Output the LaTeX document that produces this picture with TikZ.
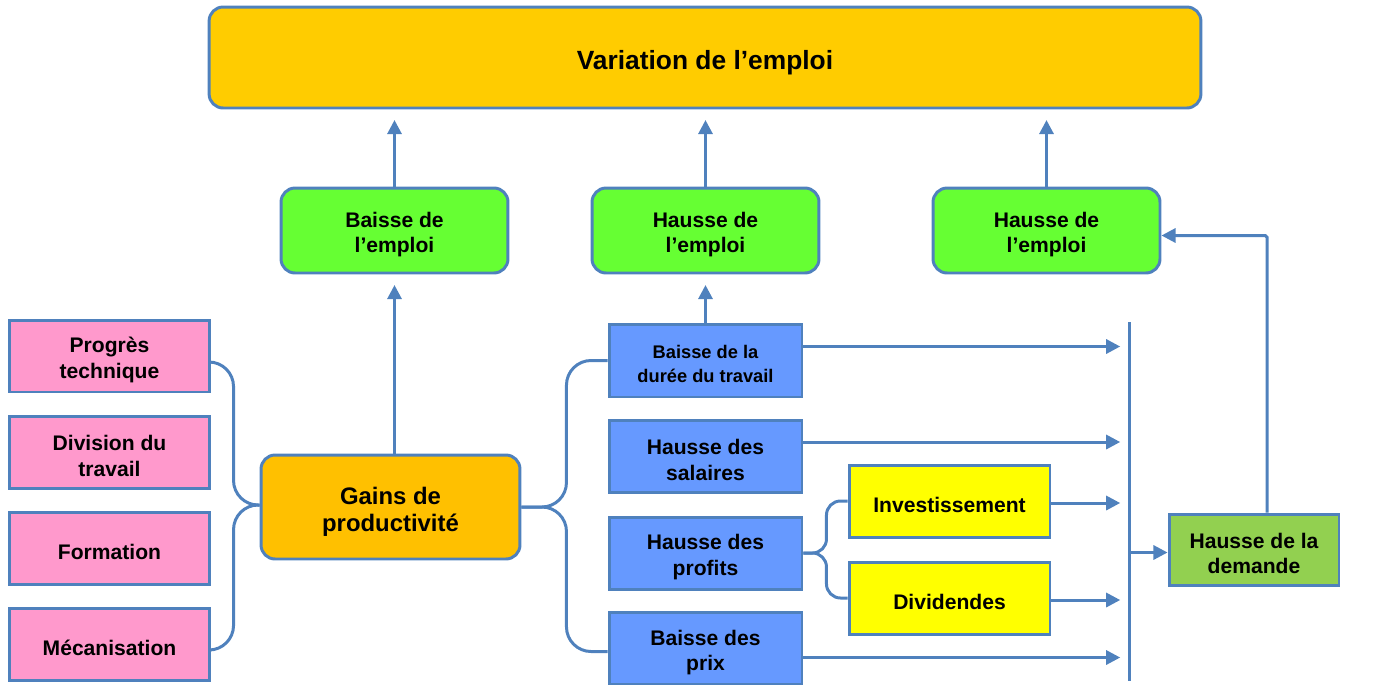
\documentclass[tikz,border=0pt]{standalone}
\usepackage{fontspec}
\setmainfont{Liberation Sans}
\usetikzlibrary{arrows.meta,calc}
\definecolor{linec}{HTML}{4F81BD}
\definecolor{topc}{HTML}{FFCC00}
\definecolor{gainc}{HTML}{FFC000}
\definecolor{greenc}{HTML}{66FF33}
\definecolor{pinkc}{HTML}{FF99CC}
\definecolor{bluec}{HTML}{6699FF}
\definecolor{yelc}{HTML}{FFFF00}
\definecolor{demc}{HTML}{92D050}
\newcommand{\lft}{\rule{0pt}{1.1em}}
\begin{document}
\begin{tikzpicture}[x=0.02cm,y=-0.02cm]
    \tikzstyle{box}=[draw=linec,line width=1.7pt,align=center,inner sep=0pt,font=\bfseries\fontsize{12}{14.5}\selectfont]
    \tikzstyle{rbox}=[box,rounded corners=8pt]
    \tikzstyle{link}=[draw=linec,line width=1.7pt]
    \tikzstyle{arr}=[link,-{Triangle[length=8pt,width=8pt]},shorten >=6pt]
    \useasboundingbox (0,0) rectangle (1378,684);

    \node[rbox,fill=topc,minimum width=19.84cm,minimum height=2.02cm,font=\bfseries\fontsize{15}{18}\selectfont] (top) at (705,57.5) {\lft Variation de l’emploi};
    \foreach \num/\x/\txt in {1/394.5/Baisse, 2/705.5/Hausse, 3/1046.5/Hausse}
        \node[rbox,fill=greenc,minimum width=4.54cm,minimum height=1.7cm] (g-\num) at (\x,230.5) {\lft\txt{} de\\l’emploi};
    \node[rbox,fill=gainc,minimum width=5.18cm,minimum height=2.08cm,font=\bfseries\fontsize{13.6}{15.3}\selectfont] (gains) at (390.5,507) {\lft Gains de\\productivité};

    \foreach \num/\y/\txt in {1/356/{Progrès\\technique}, 2/452/{Division du\\travail}, 3/548/Formation, 4/644/Mécanisation}
        \node[box,fill=pinkc,minimum width=4.02cm,minimum height=1.44cm] (p-\num) at (109.5,\y) {\lft\txt};
    \node[box,fill=bluec,minimum width=3.86cm,minimum height=1.46cm,font=\bfseries\fontsize{10.4}{13.6}\selectfont] (b-1) at (705.5,360.5) {\lft Baisse de la\\durée du travail};
    \foreach \num/\y/\txt in {2/456/{Hausse des\\salaires}, 3/553/{Hausse des\\profits}, 4/648.5/{Baisse des\\prix}}
        \node[box,fill=bluec,minimum width=3.86cm,minimum height=1.44cm] (b-\num) at (705.5,\y) {\lft\txt};
    \foreach \num/\y/\txt in {1/501/Investissement, 2/598/Dividendes}
        \node[box,fill=yelc,minimum width=4.02cm,minimum height=1.44cm] (y-\num) at (949.5,\y) {\lft\txt};
    \node[box,fill=demc,minimum width=3.4cm,minimum height=1.42cm] (dem) at (1254,549.5) {\lft Hausse de la\\demande};
    \coordinate (bartop) at (1129,322);
    \coordinate (barbot) at (1129,681);
    \draw[link] (bartop) -- (barbot);

    % braces
    \foreach \num in {1,4}
        \draw[link,rounded corners=14pt] ($(p-\num.east)+(0,6)$) -| ($(gains.west)+(-26,-2)$) -- ($(gains.west)+(0,-2)$);
    \foreach \num/\dy in {1/0,4/3}
        \draw[link,rounded corners=14pt] ($(b-\num.west)+(0,\dy)$) -| ($(gains.east)+(45,0)$) -- (gains.east);
    \foreach \num in {1,2}
        \draw[link,rounded corners=8pt] (y-\num.west) -| ($(b-3.east)+(23,0)$) -- (b-3.east);

    % arrows
    \foreach \num in {1,2,3}
        \draw[arr] (g-\num.north) -- (top.south -| g-\num.north);
    \draw[arr] (g-1.south |- gains.north) -- (g-1.south);
    \draw[arr] (g-2.south |- b-1.north) -- (g-2.south);
    \foreach \num/\dy in {1/-14,2/-14,4/9}
        \draw[arr,shorten >=5pt] ($(b-\num.east)+(0,\dy)$) -- ($(b-\num.east -| bartop)+(0,\dy)$);
    \foreach \num in {1,2}
        \draw[arr,shorten >=5pt] ($(y-\num.east)+(0,2)$) -- ($(y-\num.east -| bartop)+(0,2)$);
    \draw[arr,shorten >=0pt] ($(dem.west -| bartop)+(0,3)$) -- ($(dem.west)+(0,3)$);
    \draw[arr,shorten >=0pt,rounded corners=1pt] ($(dem.north)+(13,0)$) |- ($(g-3.east)+(0,5)$);
\end{tikzpicture}
\end{document}
